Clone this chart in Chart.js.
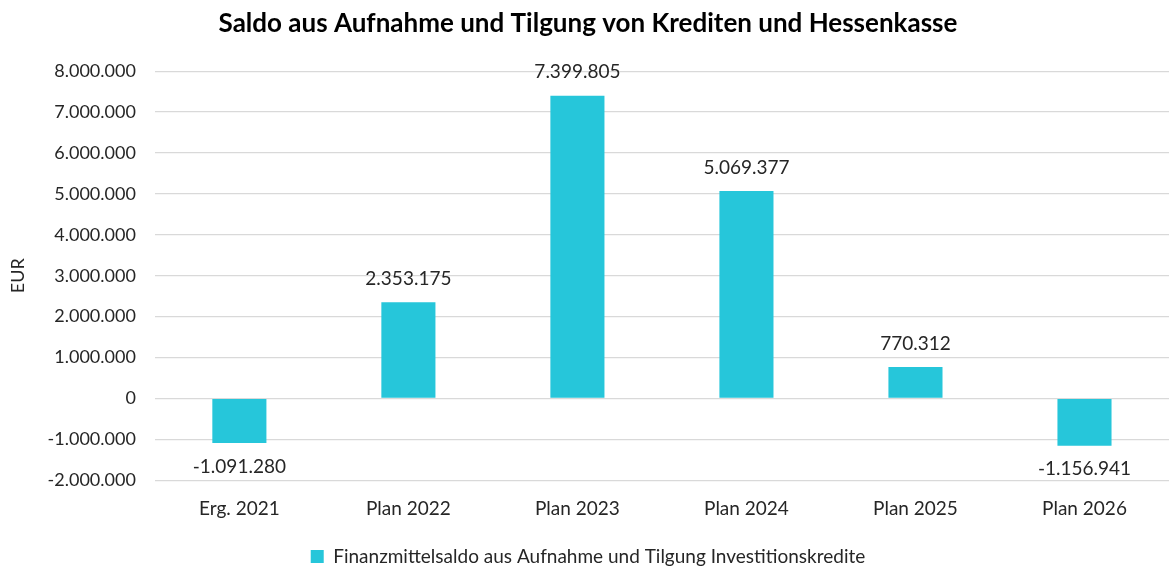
<!DOCTYPE html>
<html>
<head>
<meta charset="utf-8">
<script src="https://cdn.jsdelivr.net/npm/chart.js@4"></script>
<style>
    html, body { margin: 0; padding: 0; background: #fff; }
    #wrap { width: 1169px; height: 568px; }
</style>
</head>
<body>
<div id="wrap"><canvas id="chart"></canvas></div>
<script>
const categories = ['Erg. 2021', 'Plan 2022', 'Plan 2023', 'Plan 2024', 'Plan 2025', 'Plan 2026'];
const saldo = [-1091280, 2353175, 7399805, 5069377, 770312, -1156941];
const seriesLabel = 'Finanzmittelsaldo aus Aufnahme und Tilgung Investitionskredite';
const yTicks = [-2000000, -1000000, 0, 1000000, 2000000, 3000000, 4000000, 5000000, 6000000, 7000000, 8000000];

const FONT = 'Lato, "Open Sans", sans-serif';
const TEXT = '#262626';

// 1234567 -> "1.234.567"
function fmt(v) {
    const s = Math.abs(Math.round(v)).toString().replace(/\B(?=(\d{3})+(?!\d))/g, '.');
    return (v < 0 ? '-' : '') + s;
}

// draw value labels above / below each bar
const valueLabels = {
    id: 'valueLabels',
    afterDatasetsDraw(chart) {
        const ctx = chart.ctx;
        const meta = chart.getDatasetMeta(0);
        ctx.save();
        ctx.font = '19px ' + FONT;
        ctx.fillStyle = TEXT;
        ctx.textAlign = 'center';
        meta.data.forEach((bar, i) => {
            const v = saldo[i];
            if (v >= 0) {
                ctx.textBaseline = 'bottom';
                ctx.fillText(fmt(v), bar.x, bar.y - 14);
            } else {
                ctx.textBaseline = 'top';
                ctx.fillText(fmt(v), bar.x, bar.y + 14);
            }
        });
        ctx.restore();
    }
};

new Chart(document.getElementById('chart'), {
    type: 'bar',
    data: {
        labels: categories,
        datasets: [{
            label: seriesLabel,
            data: saldo,
            backgroundColor: '#26C6DA',
            borderWidth: 0,
            categoryPercentage: 1,
            barPercentage: 0.32
        }]
    },
    options: {
        responsive: true,
        maintainAspectRatio: false,
        animation: false,
        layout: { padding: { top: 0, right: 0, left: 7, bottom: -8 } },
        plugins: {
            title: {
                display: true,
                text: 'Saldo aus Aufnahme und Tilgung von Krediten und Hessenkasse',
                color: '#000',
                font: { family: FONT, size: 26, weight: 'bold' },
                padding: { top: 8, bottom: 32 }
            },
            legend: {
                position: 'bottom',
                labels: {
                    color: TEXT,
                    font: { family: FONT, size: 19 },
                    boxWidth: 13,
                    boxHeight: 13,
                    padding: 2
                }
            },
            tooltip: { enabled: false }
        },
        scales: {
            x: {
                grid: { display: false },
                border: { display: false },
                ticks: { color: TEXT, font: { family: FONT, size: 19 }, padding: 9 },
                afterFit(scale) {
                    scale.height += 16;
                }
            },
            y: {
                min: -2000000,
                max: 8000000,
                afterBuildTicks(axis) {
                    axis.ticks = yTicks.map(v => ({ value: v }));
                },
                grid: { color: '#d9d9d9', lineWidth: 1.3, drawTicks: false },
                border: { display: false },
                ticks: {
                    color: TEXT,
                    font: { family: FONT, size: 18 },
                    padding: 19,
                    callback: v => fmt(v)
                },
                title: {
                    display: true,
                    text: 'EUR',
                    color: TEXT,
                    font: { family: FONT, size: 18 },
                    padding: { top: 0, bottom: 0 }
                }
            }
        }
    },
    plugins: [valueLabels]
});
</script>
</body>
</html>
